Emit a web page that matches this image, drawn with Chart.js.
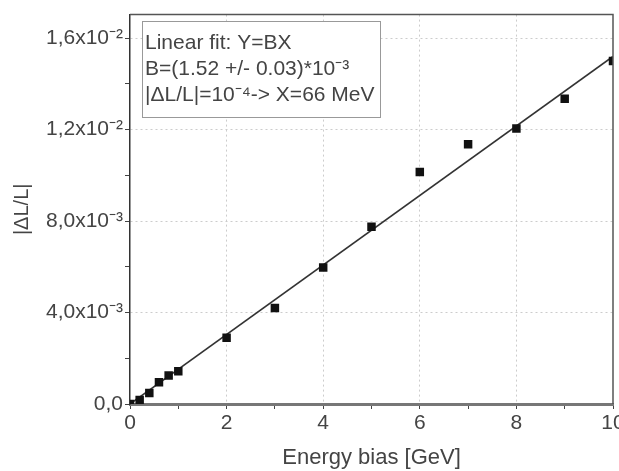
<!DOCTYPE html>
<html>
<head>
<meta charset="utf-8">
<script src="https://cdn.jsdelivr.net/npm/chart.js@4/dist/chart.umd.min.js"></script>
<style>
  html, body { margin: 0; padding: 0; background: #fff; }
  #wrap { width: 619px; height: 471px; }
</style>
</head>
<body>
<div id="wrap"><canvas id="fitChart" width="619" height="471"></canvas></div>
<script>
const energyBias = [0, 0.2, 0.4, 0.6, 0.8, 1, 2, 3, 4, 5, 6, 7, 8, 9, 10];
const deltaLL = [0, 0.00017, 0.00048, 0.00095, 0.00125, 0.00143, 0.0029, 0.0042, 0.00597, 0.00775, 0.01015, 0.01136, 0.01205, 0.01335, 0.0150];

// linear fit Y = B*X
const fitSlope = 0.00152;
const fitX = [0, 10];

const yTickLabels = { 0: "0,0", 4: "4,0x10⁻³", 8: "8,0x10⁻³", 12: "1,2x10⁻²", 16: "1,6x10⁻²" };
const fitText = ["Linear fit: Y=BX", "B=(1.52 +/- 0.03)*10⁻³", "|ΔL/L|=10⁻⁴-> X=66 MeV"];

const textColor = "#444";
const font = "Arial, 'Liberation Sans', sans-serif";

const framePlugin = {
  id: "frame",
  afterDatasetsDraw(chart) {
    const { ctx, chartArea: a } = chart;
    ctx.save();
    ctx.strokeStyle = "#555";
    ctx.lineWidth = 1.5;
    ctx.beginPath();
    ctx.moveTo(a.left, a.top);
    ctx.lineTo(a.right, a.top);
    ctx.lineTo(a.right, a.bottom);
    ctx.stroke();

    // fit info box
    ctx.strokeStyle = "#999";
    ctx.lineWidth = 1;
    ctx.fillStyle = "#fff";
    ctx.fillRect(142.5, 21.5, 238, 96);
    ctx.strokeRect(142.5, 21.5, 238, 96);
    ctx.fillStyle = textColor;
    ctx.font = "21px " + font;
    ctx.textBaseline = "middle";
    fitText.forEach((t, i) => ctx.fillText(t, 145, 43 + i * 26));
    ctx.restore();
  }
};

const ctx = document.getElementById("fitChart").getContext("2d");
new Chart(ctx, {
  type: "scatter",
  data: {
    datasets: [{
      label: "fit",
      type: "line",
      data: fitX.map(x => ({ x: x, y: fitSlope * x })),
      borderColor: "#333",
      borderWidth: 1.6,
      pointRadius: 0,
      order: 2
    }, {
      label: "data",
      data: energyBias.map((x, i) => ({ x: x, y: deltaLL[i] })),
      pointStyle: "rect",
      pointRadius: 6,
      backgroundColor: "#111",
      borderColor: "#111",
      borderWidth: 0,
      order: 1
    }]
  },
  options: {
    responsive: false,
    animation: false,
    layout: { padding: { top: 8, right: 3, left: 0, bottom: 0 } },
    plugins: { legend: { display: false }, tooltip: { enabled: false } },
    scales: {
      x: {
        type: "linear",
        min: 0,
        max: 10,
        afterBuildTicks: s => { s.ticks = [0,1,2,3,4,5,6,7,8,9,10].map(v => ({ value: v })); },
        afterFit: s => { s.height = 67; s.paddingRight = 0; s.paddingLeft = 0; },
        ticks: {
          color: textColor,
          font: { size: 21, family: font },
          padding: 2,
          maxRotation: 0,
          callback: v => (v % 2 === 0 ? String(v) : "")
        },
        grid: {
          color: c => (c.tick && c.tick.value % 2 === 0 && c.tick.value > 0 && c.tick.value < 10 ? "#ccc" : "transparent"),
          tickColor: "#444",
          tickLength: 5,
          drawOnChartArea: true
        },
        border: { color: "#777", width: 3, dash: [2, 3] },
        title: {
          display: true,
          text: "Energy bias [GeV]",
          color: textColor,
          font: { size: 22, family: font },
          padding: { top: 6, bottom: 0 }
        }
      },
      y: {
        type: "linear",
        min: 0,
        max: 0.01703,
        afterBuildTicks: s => { s.ticks = [0,2,4,6,8,10,12,14,16].map(v => ({ value: v / 1000 })); },
        afterFit: s => { s.width = 130; },
        ticks: {
          color: textColor,
          font: { size: 21, family: font },
          padding: 2,
          callback: v => {
            const k = Math.round(v * 1000);
            return yTickLabels[k] !== undefined ? yTickLabels[k] : "";
          }
        },
        grid: {
          color: c => {
            const k = c.tick ? Math.round(c.tick.value * 1000) : 0;
            return k % 4 === 0 && k > 0 ? "#ccc" : "transparent";
          },
          tickColor: "#444",
          tickLength: 5
        },
        border: { color: "#333", width: 1.5, dash: [2, 3] },
        title: {
          display: true,
          text: "|ΔL/L|",
          color: textColor,
          font: { size: 20, family: font },
          padding: { top: 10, bottom: 4 }
        }
      }
    }
  },
  plugins: [framePlugin]
});
</script>
</body>
</html>
